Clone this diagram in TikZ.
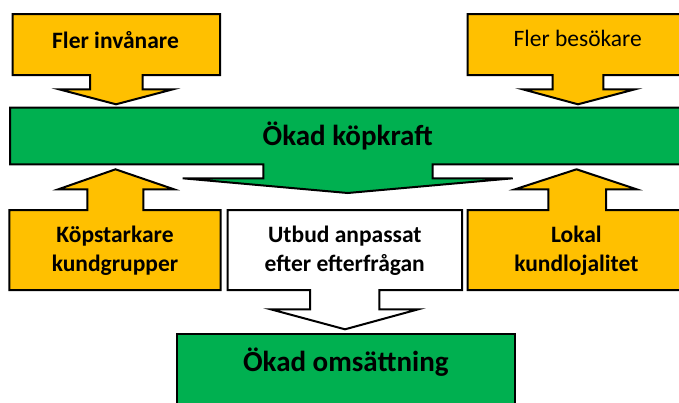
\documentclass[tikz,border=0pt]{standalone}
\usepackage{fontspec}
\setmainfont{Carlito}
\definecolor{boxyellow}{HTML}{FFC000}
\definecolor{boxgreen}{HTML}{00B050}
\begin{document}
\begin{tikzpicture}[x=1pt,y=-1pt,
  yellowshape/.style={fill=boxyellow,draw=black,line width=2pt,line join=miter},
  greenshape/.style={fill=boxgreen,draw=black,line width=2pt,line join=miter},
  whiteshape/.style={fill=white,draw=black,line width=2pt,line join=miter},
  smalltext/.style={font=\fontsize{23.5}{28.5}\selectfont\bfseries,align=center,anchor=base,inner sep=0pt},
  smallplain/.style={font=\fontsize{23.5}{28.5}\selectfont,align=center,anchor=base,inner sep=0pt},
  bigtext/.style={font=\fontsize{29}{35}\selectfont\bfseries,align=center,anchor=base,inner sep=0pt}]
\useasboundingbox (0,0) rectangle (679,402);
\begin{scope}
\clip (0,0) rectangle (679,402);
% Fler invånare (down arrow callout)
\draw[yellowshape] (12.7,14) -- (220,14) -- (220,75) -- (142.7,75) -- (142.7,89.3) -- (173,89.3)
  -- (116,104.3) -- (59,89.3) -- (90,89.3) -- (90,75) -- (12.7,75) -- cycle;
% Fler besökare
\draw[yellowshape] (467.7,14) -- (692,14) -- (692,75) -- (603.3,75) -- (603.3,89.3) -- (635,89.3)
  -- (578,104.3) -- (522.7,89.3) -- (552.7,89.3) -- (552.7,75) -- (467.7,75) -- cycle;
% Ökad köpkraft
\draw[greenshape] (10,107.7) -- (692,107.7) -- (692,164.3) -- (432.7,164.3) -- (432.7,178.3) -- (512.7,178.3)
  -- (347.7,193) -- (182.7,178.3) -- (263.3,178.3) -- (263.3,164.3) -- (10,164.3) -- cycle;
% Köpstarkare kundgrupper (up arrow callout)
\draw[yellowshape] (9.3,210) -- (87.3,210) -- (87.3,189.3) -- (58.3,189.3) -- (115.5,169.3) -- (174,189.3)
  -- (143.3,189.3) -- (143.3,210) -- (220.7,210) -- (220.7,290) -- (9.3,290) -- cycle;
% Lokal kundlojalitet
\draw[yellowshape] (467.7,210) -- (548.3,210) -- (548.3,189.3) -- (515,189.3) -- (576.5,169.3) -- (636.7,189.3)
  -- (606,189.3) -- (606,210) -- (692,210) -- (692,290) -- (467.7,290) -- cycle;
% Utbud anpassat efter efterfrågan
\draw[whiteshape] (227.7,210) -- (462,210) -- (462,290) -- (379.3,290) -- (379.3,309.3) -- (418.3,309.3)
  -- (345,329.3) -- (270.7,309.3) -- (310,309.3) -- (310,290) -- (227.7,290) -- cycle;
% Ökad omsättning
\draw[greenshape] (176.7,333.5) rectangle (514.5,412);
\end{scope}
% texts
\node[smalltext] (inv) at (115.5,48.3) {Fler invånare};
\node[smallplain] (bes) at (577.7,46.7) {Fler besökare};
\node[bigtext] (kop) at (347.7,145.7) {Ökad köpkraft};
\node[smalltext] (grp) at (115,271) {Köpstarkare\\kundgrupper};
\node[smalltext] (utb) at (344.8,271) {Utbud anpassat\\efter efterfrågan};
\node[smalltext] (lok) at (576.3,271) {Lokal\\kundlojalitet};
\node[bigtext] (oms) at (345.8,371.7) {Ökad omsättning};
\end{tikzpicture}
\end{document}
